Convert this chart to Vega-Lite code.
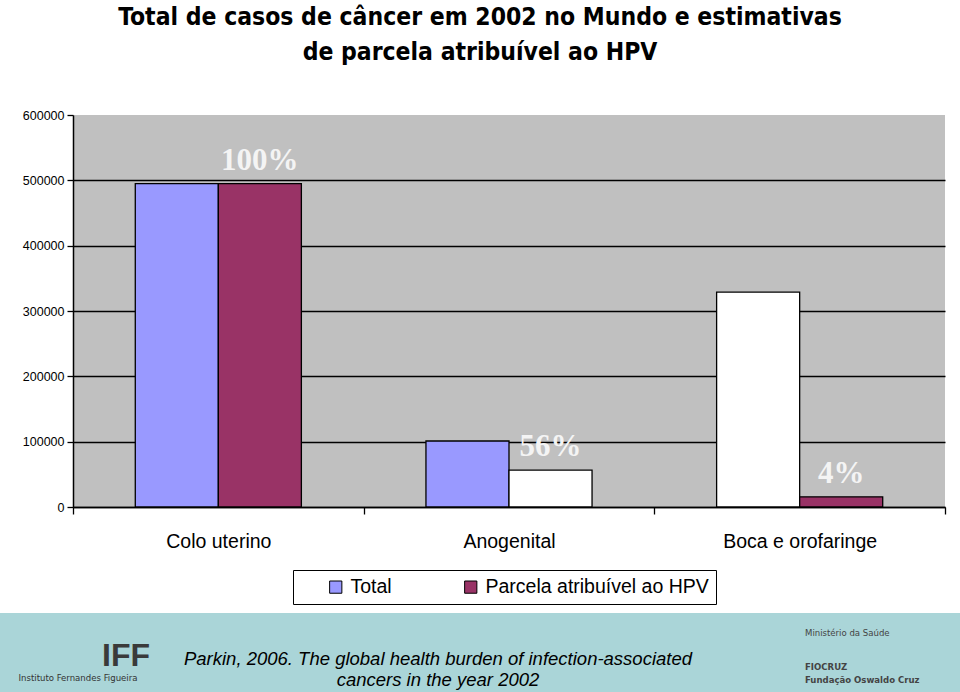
{
  "$schema": "https://vega.github.io/schema/vega-lite/v6.json",
  "background": "white",
  "padding": {"top": 4, "left": 0, "right": 0, "bottom": 0},
  "spacing": 62,
  "title": {
    "text": ["Total de casos de câncer em 2002 no Mundo e estimativas", "de parcela atribuível ao HPV"],
    "font": "DejaVu Sans Condensed",
    "fontSize": 24.5,
    "fontWeight": "bold",
    "color": "black",
    "lineHeight": 35,
    "anchor": "middle",
    "offset": 44
  },
  "datasets": {
    "casos": [
      {"categoria": "Colo uterino", "serie": "Total", "casos": 495000},
      {"categoria": "Colo uterino", "serie": "Parcela atribuível ao HPV", "casos": 495000, "percentual": "100%"},
      {"categoria": "Anogenital", "serie": "Total", "casos": 101000},
      {"categoria": "Anogenital", "serie": "Parcela atribuível ao HPV", "casos": 56500, "percentual": "56%"},
      {"categoria": "Boca e orofaringe", "serie": "Total", "casos": 329000},
      {"categoria": "Boca e orofaringe", "serie": "Parcela atribuível ao HPV", "casos": 15500, "percentual": "4%"}
    ],
    "rodape": [
      {"bloco": "esquerda", "parte": "sigla", "texto": "IFF"},
      {"bloco": "esquerda", "parte": "nome", "texto": "Instituto Fernandes Figueira"},
      {"bloco": "centro", "parte": "citacao", "texto": "Parkin, 2006. The global health burden of infection-associated\ncancers in the year 2002"},
      {"bloco": "direita", "parte": "ministerio", "texto": "Ministério da Saúde"},
      {"bloco": "direita", "parte": "fiocruz", "texto": "FIOCRUZ\nFundação Oswaldo Cruz"}
    ],
    "vazio": []
  },
  "vconcat": [
    {
      "spacing": 0,
      "hconcat": [
        {
          "width": 1,
          "height": 392,
          "data": {"name": "vazio"},
          "mark": "point"
        },
        {
          "width": 872,
          "height": 392,
          "view": {"fill": "#C0C0C0", "stroke": null},
          "data": {"name": "casos"},
          "encoding": {
            "x": {
              "field": "categoria",
              "type": "nominal",
              "sort": ["Colo uterino", "Anogenital", "Boca e orofaringe"],
              "scale": {"paddingInner": 0, "paddingOuter": 0},
              "axis": {
                "title": null,
                "labelAngle": 0,
                "labelFont": "Liberation Sans",
                "labelFontSize": 19.5,
                "labelColor": "black",
                "labelPadding": 18,
                "tickBand": "extent",
                "tickColor": "black",
                "tickSize": 7,
                "tickWidth": 1.3,
                "domainColor": "black",
                "domainWidth": 1.5
              }
            },
            "xOffset": {
              "field": "serie",
              "sort": ["Total", "Parcela atribuível ao HPV"],
              "scale": {"paddingInner": 0, "paddingOuter": 0.75}
            },
            "y": {
              "field": "casos",
              "type": "quantitative",
              "scale": {"domain": [0, 600000]},
              "axis": {
                "title": null,
                "minExtent": 72,
                "values": [0, 100000, 200000, 300000, 400000, 500000, 600000],
                "format": "d",
                "labelFont": "Liberation Sans",
                "labelFontSize": 12.5,
                "labelColor": "black",
                "labelPadding": 3,
                "tickColor": "black",
                "tickSize": 6,
                "tickWidth": 1.3,
                "domainColor": "black",
                "domainWidth": 1.5,
                "grid": true,
                "gridColor": "black",
                "gridWidth": 1.3,
                "gridOpacity": {"condition": {"test": "datum.value === 600000", "value": 0}, "value": 1}
              }
            }
          },
          "layer": [
            {
              "mark": {"type": "bar", "stroke": "black", "strokeWidth": 1.3},
              "encoding": {
                "color": {
                  "condition": {
                    "test": "(datum.categoria === 'Anogenital' && datum.serie !== 'Total') || (datum.categoria === 'Boca e orofaringe' && datum.serie === 'Total')",
                    "value": "white"
                  },
                  "field": "serie",
                  "type": "nominal",
                  "scale": {"domain": ["Total", "Parcela atribuível ao HPV"], "range": ["#9999FF", "#993366"]},
                  "legend": {
                    "orient": "none",
                    "legendX": 293,
                    "legendY": 455,
                    "direction": "horizontal",
                    "title": null,
                    "fillColor": "white",
                    "strokeColor": "black",
                    "padding": 7,
                    "columnPadding": 43,
                    "symbolOffset": 26,
                    "symbolType": "square",
                    "symbolSize": 150,
                    "symbolStrokeColor": "black",
                    "symbolStrokeWidth": 1,
                    "symbolOpacity": 1,
                    "labelOffset": 5,
                    "labelFont": "Liberation Sans",
                    "labelFontSize": 19.5,
                    "labelColor": "black",
                    "labelLimit": 400
                  }
                }
              }
            },
            {
              "transform": [{"filter": "datum.percentual != null"}],
              "mark": {
                "type": "text",
                "font": "Liberation Serif",
                "fontSize": 31,
                "fontWeight": "bold",
                "fill": "#F4F4F4",
                "align": "center",
                "baseline": "alphabetic",
                "dy": -14
              },
              "encoding": {"text": {"field": "percentual"}}
            }
          ]
        }
      ]
    },
    {
      "width": 960,
      "height": 80,
      "view": {"fill": "#AAD5D8", "stroke": null},
      "data": {"name": "rodape"},
      "encoding": {
        "x": {
          "field": "bloco",
          "type": "nominal",
          "scale": {"type": "point", "domain": ["esquerda", "centro", "direita"], "padding": 0.2},
          "axis": null
        },
        "text": {"field": "texto"}
      },
      "layer": [
        {
          "transform": [{"filter": "datum.parte === 'sigla'"}],
          "mark": {"type": "text", "font": "Liberation Sans", "fontSize": 32, "fontWeight": "bold", "fill": "#3A3A3A", "align": "right", "baseline": "middle", "dx": 70, "dy": 3}
        },
        {
          "transform": [{"filter": "datum.parte === 'nome'"}],
          "mark": {"type": "text", "font": "DejaVu Sans Condensed", "fontSize": 9.5, "fill": "#333333", "align": "center", "baseline": "middle", "dx": -2, "dy": 25}
        },
        {
          "transform": [{"filter": "datum.parte === 'citacao'"}],
          "mark": {"type": "text", "font": "Liberation Sans", "fontSize": 18.5, "fontStyle": "italic", "fill": "black", "align": "center", "baseline": "middle", "lineBreak": "\n", "lineHeight": 21, "dx": -42, "dy": 6}
        },
        {
          "transform": [{"filter": "datum.parte === 'ministerio'"}],
          "mark": {"type": "text", "font": "DejaVu Sans Condensed", "fontSize": 9.5, "fill": "#444444", "align": "left", "baseline": "middle", "dx": -75, "dy": -20}
        },
        {
          "transform": [{"filter": "datum.parte === 'fiocruz'"}],
          "mark": {"type": "text", "font": "DejaVu Sans Condensed", "fontSize": 9.5, "fontWeight": "bold", "fill": "#444444", "align": "left", "baseline": "middle", "lineBreak": "\n", "lineHeight": 13, "dx": -75, "dy": 14}
        }
      ]
    }
  ],
  "config": {
    "view": {"stroke": null}
  }
}
